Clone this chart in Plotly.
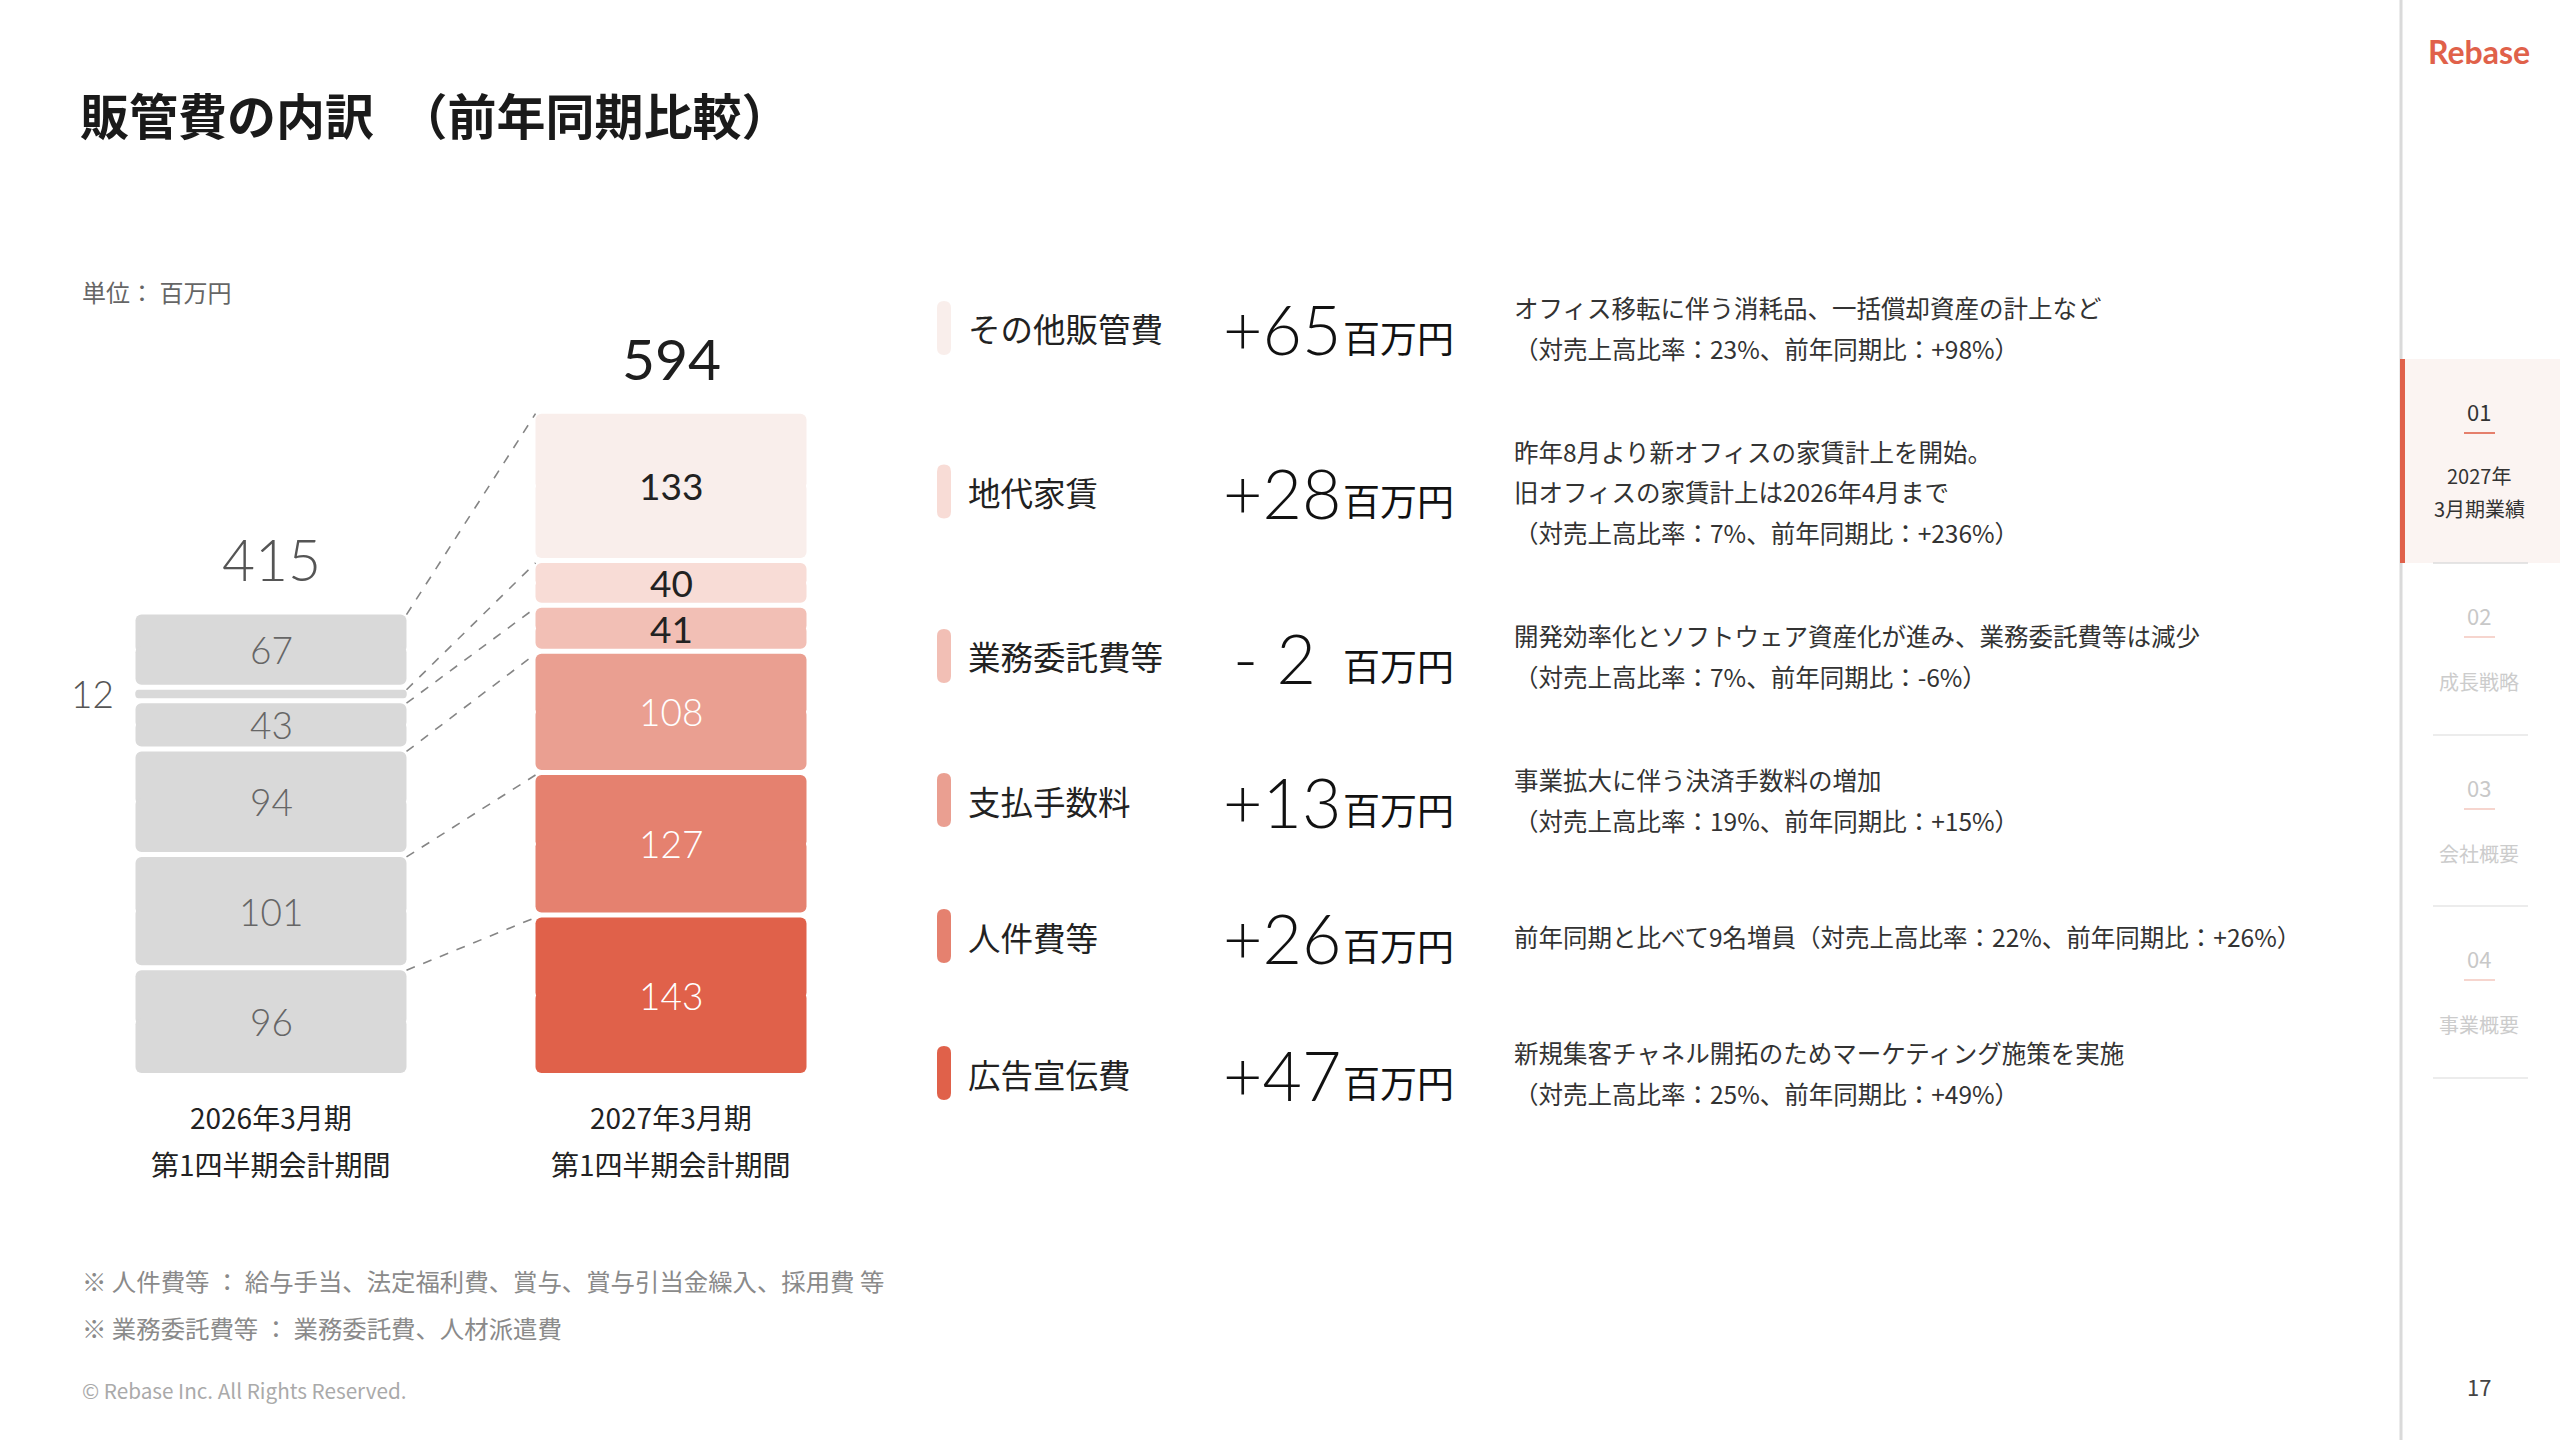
import plotly.graph_objects as go

W, H = 2560, 1440
JP = "Noto Sans CJK JP"
NUM = "Lato"

# ---------------- data ----------------
categories = ["広告宣伝費", "人件費等", "支払手数料", "業務委託費等", "地代家賃", "その他販管費"]  # bottom -> top
periods = ["2026年3月期", "2027年3月期"]
period_sub = ["第1四半期会計期間", "第1四半期会計期間"]
sga_2026 = [96, 101, 94, 43, 12, 67]
sga_2027 = [143, 127, 108, 41, 40, 133]
totals = [415, 594]
yoy_change = [47, 26, 13, -2, 28, 65]
descriptions = [
    ["新規集客チャネル開拓のためマーケティング施策を実施", "（対売上高比率：25%、前年同期比：+49%）"],
    ["前年同期と比べて9名増員（対売上高比率：22%、前年同期比：+26%）"],
    ["事業拡大に伴う決済手数料の増加", "（対売上高比率：19%、前年同期比：+15%）"],
    ["開発効率化とソフトウェア資産化が進み、業務委託費等は減少", "（対売上高比率：7%、前年同期比：-6%）"],
    ["昨年8月より新オフィスの家賃計上を開始。", "旧オフィスの家賃計上は2026年4月まで", "（対売上高比率：7%、前年同期比：+236%）"],
    ["オフィス移転に伴う消耗品、一括償却資産の計上など", "（対売上高比率：23%、前年同期比：+98%）"],
]
footnotes = ["※ 人件費等 ： 給与手当、法定福利費、賞与、賞与引当金繰入、採用費 等",
             "※ 業務委託費等 ： 業務委託費、人材派遣費"]
nav_items = [("01", "2027年<br>3月期業績"), ("02", "成長戦略"), ("03", "会社概要"), ("04", "事業概要")]

# ---------------- styles ----------------
grey_bar = "#D9D9D9"
colors_2027 = ["#E0614A", "#E5816F", "#EA9F91", "#F2BFB5", "#F8DCD6", "#F9EEEB"]
label_colors_2027 = ["#FFFFFF", "#FFFFFF", "#FFFFFF", "#222222", "#222222", "#222222"]
label_weights_2027 = [300, 300, 300, 400, 400, 400]
ACCENT = "#E0614A"

# plot-area geometry (pixels)
X_LEFT_PX, X_RIGHT_PX = 71, 871      # x range [-0.5, 1.5]
Y_BOTTOM_PX, Y_TOP_PX = 1075.5, 290  # y range [0, 700]
Y_MAX = 700
PX_PER_UNIT = (Y_BOTTOM_PX - Y_TOP_PX) / Y_MAX
BW = 271 / ((X_RIGHT_PX - X_LEFT_PX) / 2)
GAP = 5 / PX_PER_UNIT      # white gap between stacked segments (data units)
OVL = 3.0                  # overlap of the two halves of a segment (data units)


def PX(x):
    return x / W


def PY(y):
    return 1 - y / H


fig = go.Figure()

base_l, base_r = 0, 0
bases_l, bases_r = [], []
for i, cat in enumerate(categories):
    bases_l.append(base_l)
    bases_r.append(base_r)
    bases = [base_l, base_r]
    vals = [sga_2026[i], sga_2027[i]]
    y0 = [b + GAP / 2 for b in bases]
    y1 = [b + v - GAP / 2 for b, v in zip(bases, vals)]
    mid = [(a + c) / 2 for a, c in zip(y0, y1)]
    ovl = [min(OVL, (c - a) / 2) for a, c in zip(y0, y1)]
    cols = [grey_bar, colors_2027[i]]
    # upper half (rounded top corners)
    fig.add_trace(go.Bar(
        x=[0, 1], y=[c - m + o for c, m, o in zip(y1, mid, ovl)],
        base=[m - o for m, o in zip(mid, ovl)], width=BW,
        name=cat, showlegend=False, marker=dict(color=cols, line=dict(width=0), cornerradius=6),
        hoverinfo="skip",
    ))
    # lower half (rounded bottom corners)
    fig.add_trace(go.Bar(
        x=[0, 1], y=[-(m + o - a) for a, m, o in zip(y0, mid, ovl)],
        base=[m + o for m, o in zip(mid, ovl)], width=BW,
        name=cat, showlegend=False, marker=dict(color=cols, line=dict(width=0), cornerradius=6),
        hoverinfo="skip",
    ))
    base_l += sga_2026[i]
    base_r += sga_2027[i]

# dashed connectors between segment tops
for i in range(len(categories)):
    fig.add_trace(go.Scatter(
        x=[BW / 2, 1 - BW / 2],
        y=[bases_l[i] + sga_2026[i] - GAP / 2, bases_r[i] + sga_2027[i] - GAP / 2],
        mode="lines", line=dict(color="#858585", width=1.6, dash="dash"),
        showlegend=False, hoverinfo="skip",
    ))

annotations = []


def txt(x, y, s, size, color, family=JP, weight=400, anchor="left"):
    annotations.append(dict(xref="paper", yref="paper", x=PX(x), y=PY(y), text=s,
                            showarrow=False, xanchor=anchor, yanchor="middle",
                            font=dict(size=size, color=color, family=family, weight=weight)))


# segment labels
for i in range(len(categories)):
    if sga_2026[i] >= 20:
        annotations.append(dict(xref="x", yref="y", x=0, y=bases_l[i] + sga_2026[i] / 2,
                                text=str(sga_2026[i]), showarrow=False,
                                font=dict(size=37, color="#666666", family=NUM, weight=300)))
    else:
        annotations.append(dict(xref="x", yref="y", x=-BW / 2, y=bases_l[i] + sga_2026[i] / 2,
                                text=str(sga_2026[i]), showarrow=False, xanchor="right", xshift=-20,
                                font=dict(size=37, color="#555555", family=NUM, weight=300)))
    annotations.append(dict(xref="x", yref="y", x=1, y=bases_r[i] + sga_2027[i] / 2,
                            text=str(sga_2027[i]), showarrow=False,
                            font=dict(size=37, color=label_colors_2027[i], family=NUM,
                                      weight=label_weights_2027[i])))

# totals
stack_tops = [sum(sga_2026), sum(sga_2027)]
total_colors = ["#555555", "#1e1e1e"]
for j in range(2):
    annotations.append(dict(xref="x", yref="y", x=j, y=stack_tops[j], text=str(totals[j]),
                            showarrow=False, yanchor="middle", yshift=53,
                            font=dict(size=57, color=total_colors[j], family=NUM, weight=400 if j else 300)))

# period labels
for j in range(2):
    annotations.append(dict(xref="x", yref="paper", x=j, y=PY(1117), text=periods[j],
                            showarrow=False, yanchor="middle",
                            font=dict(size=28, color="#222222", family=JP)))
    annotations.append(dict(xref="x", yref="paper", x=j, y=PY(1164), text=period_sub[j],
                            showarrow=False, yanchor="middle",
                            font=dict(size=28, color="#222222", family=JP)))

# title etc
txt(78, 114, "販管費の内訳　（前年同期比較）", 49, "#1a1a1a", weight=700)
txt(80, 292, "単位： 百万円", 24, "#666666")
txt(80, 1280, footnotes[0], 24.4, "#8a8a8a")
txt(80, 1327, footnotes[1], 24.4, "#8a8a8a")
txt(80, 1390, "© Rebase Inc. All Rights Reserved.", 20.7, "#aaaaaa")

# right-hand rows (top -> bottom)
shapes = []


def rrect(x0, y0, x1, y1, r, color, layer="above"):
    def P(x, y):
        return f"{PX(x):.6f},{PY(y):.6f}"
    path = (f"M {P(x0 + r, y0)} L {P(x1 - r, y0)} Q {P(x1, y0)} {P(x1, y0 + r)} "
            f"L {P(x1, y1 - r)} Q {P(x1, y1)} {P(x1 - r, y1)} L {P(x0 + r, y1)} "
            f"Q {P(x0, y1)} {P(x0, y1 - r)} L {P(x0, y0 + r)} Q {P(x0, y0)} {P(x0 + r, y0)} Z")
    shapes.append(dict(type="path", xref="paper", yref="paper", path=path,
                       fillcolor=color, line=dict(width=0), layer=layer))


row_centers = [328, 491.5, 656, 800, 936, 1073]
n = len(categories)
for r, yc in enumerate(row_centers):
    i = n - 1 - r
    rrect(937, yc - 27, 951, yc + 27, 7, colors_2027[i])
    txt(966, yc, categories[i], 32.5, "#222222")
    ch = yoy_change[i]
    if ch >= 0:
        s = f"+{ch}"
    else:
        s = "-\u00a0" + str(abs(ch))
    annotations.append(dict(xref="paper", yref="paper", x=PX(1221), y=PY(yc + 1), text=s,
                            showarrow=False, xanchor="left", yanchor="middle",
                            xshift=(10 if ch < 0 else 0),
                            font=dict(size=68, color="#111111", family=NUM, weight=300)))
    txt(1341, yc + 9, "百万円", 37, "#111111")
    lines = descriptions[i]
    k = len(lines)
    for li, line in enumerate(lines):
        ly = yc + (li - (k - 1) / 2) * 40.5
        txt(1512, ly, line, 24.5, "#333333")

# sidebar
shapes.append(dict(type="rect", xref="paper", yref="paper", x0=PX(2402), x1=1, y0=PY(563), y1=PY(359),
                   fillcolor="#FBF4F2", line=dict(width=0), layer="below"))
shapes.append(dict(type="line", xref="paper", yref="paper", x0=PX(2401), x1=PX(2401), y0=0, y1=1,
                   line=dict(color="#DADADA", width=3)))
shapes.append(dict(type="rect", xref="paper", yref="paper", x0=PX(2400), x1=PX(2405), y0=PY(563), y1=PY(359),
                   fillcolor=ACCENT, line=dict(width=0)))
txt(2479, 52, "Rebase", 32, ACCENT, family=NUM, weight=700, anchor="center")

nav_num_y = [411, 615, 787, 958]
for k, (num, lab) in enumerate(nav_items):
    active = k == 0
    ny = nav_num_y[k]
    txt(2479, ny, num, 22, "#333333" if active else "#C8C8C8", anchor="center")
    shapes.append(dict(type="line", xref="paper", yref="paper", x0=PX(2464), x1=PX(2495),
                       y0=PY(ny + 22), y1=PY(ny + 22),
                       line=dict(color=ACCENT if active else "#F4CBC2", width=1.6)))
    if active:
        txt(2479, 475, "2027年", 20, "#333333", anchor="center")
        txt(2479, 508, "3月期業績", 20, "#333333", anchor="center")
    else:
        txt(2479, ny + 66, lab, 20, "#CCCCCC", anchor="center")
    sep_y = [563, 735, 906, 1078][k]
    shapes.append(dict(type="line", xref="paper", yref="paper", x0=PX(2433), x1=PX(2528),
                       y0=PY(sep_y), y1=PY(sep_y),
                       line=dict(color="#E6E6E6" if k else "#DDDDDD", width=1.5)))
txt(2479, 1386, "17", 22, "#444444", anchor="center")

fig.update_layout(
    width=W, height=H, margin=dict(l=0, r=0, t=0, b=0),
    paper_bgcolor="white", plot_bgcolor="white",
    barmode="overlay", showlegend=False,
    xaxis=dict(domain=[PX(X_LEFT_PX), PX(X_RIGHT_PX)], range=[-0.5, 1.5], visible=False, fixedrange=True),
    yaxis=dict(domain=[PY(Y_BOTTOM_PX), PY(Y_TOP_PX)], range=[0, Y_MAX], visible=False, fixedrange=True),
    annotations=annotations, shapes=shapes,
    font=dict(family=JP),
)

fig.write_html("out.html", config={"displayModeBar": False},
               post_script="document.body.style.margin='0';document.body.style.overflow='hidden';")
